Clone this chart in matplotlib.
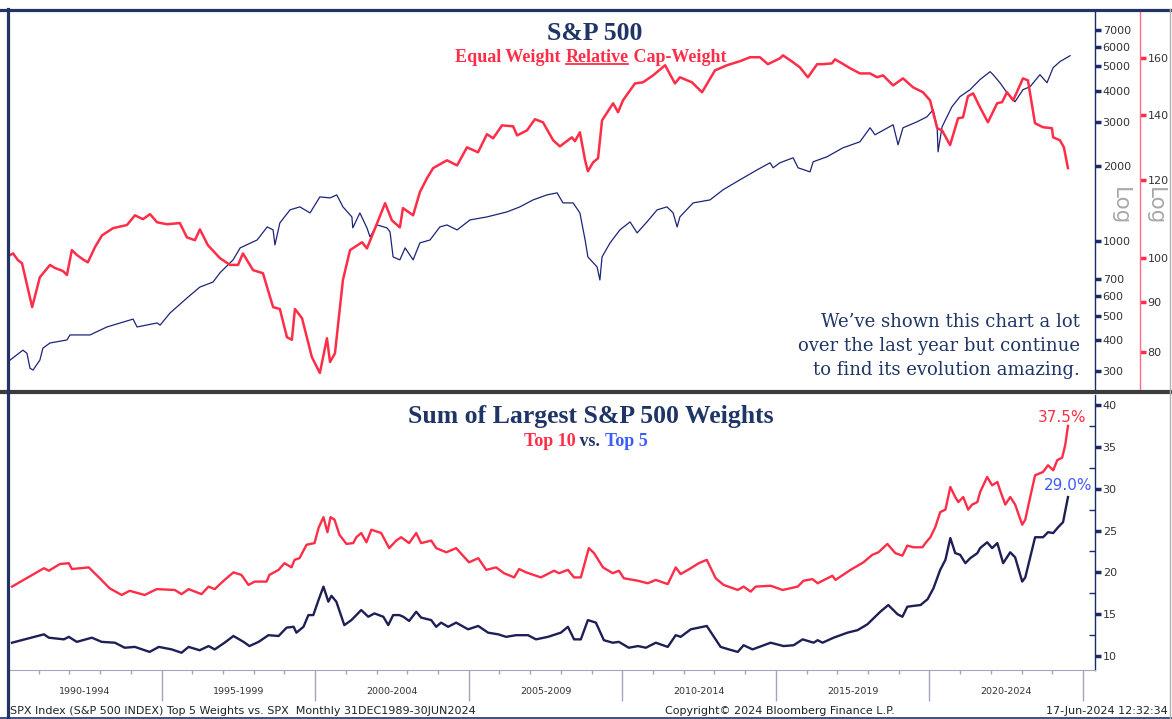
import matplotlib
matplotlib.use("Agg")
import matplotlib.pyplot as plt
from matplotlib.lines import Line2D
from matplotlib.ticker import FixedLocator, NullLocator, StrMethodFormatter, NullFormatter
import matplotlib.transforms as mtransforms

# ── S&P 500 index (monthly) ──
spx_dates = [1990.13, 1990.55, 1990.68, 1990.78, 1990.88, 1991.10, 1991.20, 1991.43, 1991.98, 1992.08,
             1992.73, 1993.28, 1994.13, 1994.26, 1994.91, 1995.01, 1995.33, 1995.88, 1996.30, 1996.73,
             1996.95, 1997.38, 1997.61, 1998.16, 1998.49, 1998.68, 1998.74, 1998.90, 1999.23, 1999.55,
             1999.88, 2000.20, 2000.53, 2000.75, 2000.95, 2001.24, 2001.27, 2001.50, 2001.73, 2001.83,
             2002.06, 2002.38, 2002.48, 2002.58, 2002.80, 2002.97, 2003.23, 2003.45, 2003.78, 2004.10,
             2004.33, 2004.66, 2005.08, 2005.63, 2006.28, 2006.70, 2007.13, 2007.58, 2007.91, 2008.10,
             2008.43, 2008.65, 2008.82, 2008.91, 2009.21, 2009.30, 2009.37, 2009.63, 2009.95, 2010.28,
             2010.51, 2010.83, 2011.16, 2011.48, 2011.68, 2011.81, 2011.90, 2012.33, 2012.88, 2013.30,
             2013.85, 2014.41, 2014.83, 2014.93, 2015.15, 2015.58, 2015.74, 2016.13, 2016.23, 2016.68,
             2017.20, 2017.75, 2018.08, 2018.24, 2018.83, 2018.99, 2019.15, 2019.61, 2019.93, 2020.13,
             2020.26, 2020.29, 2020.42, 2020.74, 2021.00, 2021.33, 2021.65, 2021.98, 2022.08, 2022.30,
             2022.53, 2022.79, 2023.05, 2023.28, 2023.60, 2023.83, 2024.03, 2024.25, 2024.58]
spx_values = [332, 364, 354, 308, 303, 332, 371, 389, 400, 419,
              419, 451, 485, 451, 468, 459, 513, 589, 652, 683,
              743, 838, 936, 1007, 1136, 1105, 962, 1179, 1330, 1367,
              1293, 1499, 1485, 1527, 1367, 1246, 1126, 1293, 1126, 1036,
              1157, 1126, 1085, 861, 838, 936, 838, 980, 1007, 1136,
              1157, 1105, 1212, 1246, 1305, 1367, 1458, 1527, 1556, 1418,
              1418, 1293, 1007, 861, 785, 696, 861, 980, 1105, 1190,
              1075, 1190, 1330, 1367, 1293, 1136, 1246, 1418, 1458, 1600,
              1755, 1924, 2054, 1961, 2054, 2151, 1961, 1889, 2073, 2171,
              2359, 2493, 2838, 2660, 2918, 2425, 2838, 3000, 3142, 3352,
              2864, 2273, 2864, 3446, 3780, 4035, 4426, 4764, 4633, 4302,
              3924, 3609, 4035, 4146, 4633, 4302, 4945, 5227, 5522]

# ── Equal weight relative to cap weight ──
ew_dates = [1990.13, 1990.23, 1990.39, 1990.52, 1990.85, 1991.10, 1991.43, 1991.59, 1991.85, 1991.98,
            1992.14, 1992.31, 1992.50, 1992.66, 1992.89, 1993.12, 1993.48, 1993.93, 1994.19, 1994.45,
            1994.68, 1994.91, 1995.23, 1995.65, 1995.88, 1996.14, 1996.30, 1996.56, 1996.95, 1997.28,
            1997.54, 1997.70, 1998.03, 1998.35, 1998.68, 1998.90, 1999.13, 1999.29, 1999.39, 1999.62,
            1999.94, 2000.20, 2000.43, 2000.53, 2000.69, 2000.95, 2001.18, 2001.57, 2001.73, 2002.06,
            2002.32, 2002.54, 2002.80, 2002.90, 2003.23, 2003.45, 2003.68, 2003.88, 2004.33, 2004.66,
            2004.98, 2005.34, 2005.63, 2005.83, 2006.12, 2006.48, 2006.61, 2006.93, 2007.19, 2007.45,
            2007.78, 2008.00, 2008.39, 2008.49, 2008.65, 2008.82, 2008.91, 2009.08, 2009.24, 2009.37,
            2009.73, 2009.89, 2010.05, 2010.44, 2010.70, 2011.03, 2011.42, 2011.74, 2011.90, 2012.29,
            2012.62, 2013.04, 2013.43, 2013.85, 2014.18, 2014.50, 2014.76, 2015.15, 2015.25, 2015.58,
            2015.80, 2016.06, 2016.36, 2016.55, 2016.84, 2016.94, 2017.17, 2017.43, 2017.75, 2018.08,
            2018.31, 2018.50, 2018.83, 2019.15, 2019.48, 2019.80, 2020.03, 2020.26, 2020.42, 2020.68,
            2020.94, 2021.10, 2021.26, 2021.43, 2021.65, 2021.91, 2022.21, 2022.37, 2022.53, 2022.73,
            2023.05, 2023.21, 2023.44, 2023.70, 2023.99, 2024.03, 2024.25, 2024.38, 2024.51]
ew_values = [100.6, 101.0, 99.4, 98.7, 89.0, 95.5, 98.3, 97.6, 96.9, 96.0,
             101.8, 100.6, 99.6, 98.9, 102.5, 105.4, 107.2, 108.0, 110.5, 109.5,
             110.8, 108.7, 108.2, 108.5, 104.9, 104.2, 106.9, 103.0, 99.9, 98.3,
             98.3, 101.0, 97.1, 96.4, 89.0, 88.6, 82.9, 82.4, 88.6, 86.7,
             79.1, 76.2, 82.7, 78.2, 79.8, 94.9, 101.8, 103.7, 102.2, 108.5,
             113.7, 109.2, 107.4, 112.4, 110.5, 116.7, 120.6, 123.5, 125.8, 124.3,
             129.7, 128.2, 133.8, 132.5, 136.6, 136.3, 133.4, 135.0, 138.6, 137.6,
             131.9, 130.0, 132.8, 131.6, 134.4, 125.8, 122.6, 125.2, 126.4, 138.2,
             143.9, 140.9, 144.9, 150.8, 151.2, 153.7, 157.4, 150.8, 153.0, 151.2,
             147.7, 155.5, 157.4, 158.9, 160.4, 160.4, 157.8, 160.0, 161.1, 158.5,
             156.6, 153.0, 157.8, 157.8, 158.1, 159.6, 158.1, 156.3, 154.4, 154.4,
             153.0, 153.7, 150.1, 152.6, 149.4, 147.7, 144.9, 135.7, 135.0, 130.4,
             138.9, 139.2, 146.3, 147.3, 142.6, 137.6, 143.9, 144.3, 147.7, 144.9,
             152.6, 151.9, 137.3, 136.0, 135.7, 132.8, 131.9, 129.7, 123.5]

# ── Sum of largest weights (%) ──
top10_dates = [1990.13, 1991.17, 1991.33, 1991.69, 1991.98, 1992.08, 1992.63, 1992.96, 1993.31, 1993.70,
               1993.96, 1994.45, 1994.84, 1995.43, 1995.65, 1995.88, 1996.30, 1996.53, 1996.73, 1997.05,
               1997.34, 1997.60, 1997.83, 1998.03, 1998.42, 1998.51, 1998.81, 1999.00, 1999.23, 1999.33,
               1999.49, 1999.72, 1999.98, 2000.11, 2000.27, 2000.40, 2000.50, 2000.63, 2000.79, 2001.02,
               2001.24, 2001.34, 2001.50, 2001.67, 2001.83, 2002.15, 2002.41, 2002.64, 2002.80, 2003.06,
               2003.29, 2003.45, 2003.78, 2003.94, 2004.27, 2004.59, 2005.01, 2005.31, 2005.57, 2005.89,
               2006.15, 2006.48, 2006.64, 2006.87, 2007.35, 2007.78, 2007.94, 2008.23, 2008.43, 2008.65,
               2008.91, 2009.08, 2009.37, 2009.69, 2009.89, 2010.05, 2010.51, 2010.83, 2011.09, 2011.48,
               2011.74, 2011.90, 2012.23, 2012.49, 2012.75, 2013.04, 2013.30, 2013.76, 2013.95, 2014.18,
               2014.34, 2014.83, 2015.22, 2015.71, 2015.90, 2016.19, 2016.36, 2016.84, 2016.94, 2017.43,
               2017.85, 2018.14, 2018.34, 2018.63, 2018.89, 2019.12, 2019.28, 2019.48, 2019.77, 2019.87,
               2020.03, 2020.19, 2020.35, 2020.52, 2020.68, 2020.84, 2020.94, 2021.10, 2021.26, 2021.39,
               2021.56, 2021.65, 2021.88, 2022.04, 2022.21, 2022.30, 2022.47, 2022.63, 2022.79, 2023.02,
               2023.12, 2023.28, 2023.44, 2023.70, 2023.86, 2024.03, 2024.16, 2024.32, 2024.42, 2024.51]
top10_values = [18.3, 20.5, 20.2, 21.0, 21.1, 20.4, 20.6, 19.4, 18.1, 17.3,
                17.8, 17.3, 18.0, 17.9, 17.4, 18.0, 17.4, 18.3, 18.0, 19.1,
                20.0, 19.7, 18.5, 18.9, 18.9, 19.7, 20.3, 21.1, 20.6, 21.5,
                21.7, 23.3, 23.5, 25.3, 26.6, 24.8, 26.6, 26.3, 24.5, 23.4,
                23.5, 24.2, 24.7, 23.6, 25.1, 24.7, 22.9, 23.8, 24.2, 23.5,
                24.7, 23.5, 23.8, 22.9, 22.4, 22.9, 21.2, 21.7, 20.3, 20.6,
                19.9, 19.4, 20.4, 20.0, 19.4, 20.2, 19.9, 20.3, 19.4, 19.4,
                22.9, 22.3, 20.6, 19.9, 20.2, 19.3, 19.0, 18.7, 19.1, 18.6,
                20.6, 19.8, 20.5, 21.1, 21.5, 19.3, 18.5, 17.9, 18.3, 17.7,
                18.3, 18.4, 17.9, 18.3, 19.0, 19.2, 18.7, 19.6, 19.1, 20.3,
                21.2, 22.1, 22.4, 23.4, 22.3, 22.0, 23.2, 23.0, 23.0, 23.5,
                24.2, 25.4, 27.2, 27.5, 30.2, 29.0, 28.4, 29.0, 27.5, 28.1,
                28.4, 29.6, 31.4, 30.4, 30.8, 29.8, 28.1, 29.0, 28.1, 25.7,
                26.3, 29.0, 31.6, 32.0, 32.8, 32.2, 33.4, 33.7, 35.2, 37.5]

top5_dates = [1990.13, 1991.17, 1991.33, 1991.82, 1991.98, 1992.24, 1992.73, 1993.05, 1993.48, 1993.80,
              1994.13, 1994.61, 1994.91, 1995.33, 1995.65, 1995.88, 1996.24, 1996.53, 1996.73, 1997.05,
              1997.34, 1997.67, 1997.86, 1998.16, 1998.48, 1998.81, 1999.07, 1999.30, 1999.39, 1999.62,
              1999.78, 1999.94, 2000.11, 2000.27, 2000.43, 2000.53, 2000.69, 2000.95, 2001.18, 2001.50,
              2001.73, 2001.93, 2002.22, 2002.38, 2002.54, 2002.74, 2002.87, 2003.06, 2003.29, 2003.45,
              2003.78, 2003.94, 2004.10, 2004.33, 2004.59, 2004.98, 2005.31, 2005.63, 2005.96, 2006.22,
              2006.54, 2006.93, 2007.19, 2007.58, 2008.00, 2008.23, 2008.43, 2008.65, 2008.88, 2009.14,
              2009.40, 2009.69, 2009.89, 2010.21, 2010.51, 2010.77, 2011.09, 2011.48, 2011.74, 2011.90,
              2012.23, 2012.75, 2013.20, 2013.47, 2013.76, 2013.95, 2014.24, 2014.83, 2015.25, 2015.58,
              2015.87, 2016.23, 2016.36, 2016.52, 2016.88, 2017.33, 2017.66, 2017.98, 2018.40, 2018.66,
              2018.96, 2019.12, 2019.28, 2019.48, 2019.71, 2019.94, 2020.13, 2020.35, 2020.52, 2020.68,
              2020.84, 2021.00, 2021.17, 2021.33, 2021.56, 2021.65, 2021.88, 2022.04, 2022.21, 2022.40,
              2022.63, 2022.79, 2023.02, 2023.12, 2023.28, 2023.44, 2023.70, 2023.86, 2024.03, 2024.19,
              2024.35, 2024.51]
top5_values = [11.6, 12.6, 12.2, 12.0, 12.3, 11.7, 12.2, 11.7, 11.6, 11.0,
               11.1, 10.5, 11.1, 10.8, 10.4, 11.1, 10.7, 11.2, 10.8, 11.6,
               12.4, 11.7, 11.2, 11.7, 12.5, 12.4, 13.4, 13.5, 12.8, 13.5,
               14.9, 14.9, 16.7, 18.3, 16.5, 17.2, 16.5, 13.7, 14.3, 15.5,
               14.7, 15.1, 14.7, 13.7, 14.9, 14.9, 14.7, 14.2, 15.3, 14.6,
               14.3, 13.5, 14.0, 13.5, 14.0, 13.2, 13.6, 12.8, 12.6, 12.3,
               12.5, 12.5, 12.0, 12.3, 12.8, 13.5, 12.0, 12.0, 14.3, 14.0,
               11.9, 11.6, 11.7, 11.0, 11.2, 11.0, 11.6, 11.1, 12.5, 12.3,
               13.2, 13.6, 11.1, 10.8, 10.5, 11.3, 10.8, 11.6, 11.2, 11.3,
               12.0, 11.6, 11.9, 11.6, 12.2, 12.8, 13.1, 13.8, 15.3, 16.1,
               15.0, 14.7, 15.9, 16.0, 16.1, 16.8, 18.1, 20.3, 21.5, 24.1,
               22.3, 22.1, 21.1, 21.7, 22.3, 22.9, 23.6, 22.9, 23.5, 21.1,
               22.4, 21.8, 18.9, 19.4, 21.8, 24.2, 24.2, 24.8, 24.7, 25.4,
               26.0, 29.0]

spx_ticks = [300, 400, 500, 600, 700, 1000, 2000, 3000, 4000, 5000, 6000, 7000]
ew_ticks = [80, 90, 100, 120, 140, 160]
weight_ticks = [10, 15, 20, 25, 30, 35, 40]
period_starts = [1990, 1995, 2000, 2005, 2010, 2015, 2020]
period_labels = ["1990-1994", "1995-1999", "2000-2004", "2005-2009",
                 "2010-2014", "2015-2019", "2020-2024"]

W, H = 1172, 719
NAVY = "#1b2a6b"
TITLE = "#1f3566"
LINE_NAVY = "#1d1f55"
SPX_NAVY = "#1c2478"
RED = "#ff2d48"
BLUE = "#3d5cff"
GRAY_AX = "#a4a4bc"
SERIF = "Liberation Serif"

fig = plt.figure(figsize=(W / 100, H / 100), dpi=100)
fig.patch.set_facecolor("white")

# ── Top panel: SPX (log) and EW/CW ratio (log) ──
ax1 = fig.add_axes([8 / W, 1 - 390 / H, 1087 / W, 380 / H])
ax1r = ax1.twinx()

ax1.plot(spx_dates, spx_values, color=SPX_NAVY, lw=0.9)
ax1.set_yscale("log")
ax1.set_ylim(252, 8420)
ax1.set_xlim(1990.065, 2025.39)
ax1.yaxis.tick_right()
ax1.yaxis.set_major_locator(FixedLocator(spx_ticks))
ax1.yaxis.set_minor_locator(NullLocator())
ax1.yaxis.set_major_formatter(StrMethodFormatter("{x:.0f}"))
ax1.yaxis.set_minor_formatter(NullFormatter())
ax1.tick_params(axis="y", which="major", direction="out", length=4, width=2.5,
                colors=NAVY, labelcolor="#333333", labelsize=8, pad=1.5,
                left=False, labelleft=False, right=True, labelright=True)
ax1.tick_params(axis="x", which="both", bottom=False, labelbottom=False)
for side in ["top", "bottom", "left"]:
    ax1.spines[side].set_visible(False)
ax1.spines["right"].set_color(NAVY)
ax1.spines["right"].set_linewidth(1.0)

ax1r.plot(ew_dates, ew_values, color=RED, lw=1.8)
ax1r.set_yscale("log")
ax1r.set_ylim(73.2, 179.3)
ax1r.yaxis.set_major_locator(FixedLocator(ew_ticks))
ax1r.yaxis.set_minor_locator(NullLocator())
ax1r.yaxis.set_major_formatter(StrMethodFormatter("{x:.0f}"))
ax1r.yaxis.set_minor_formatter(NullFormatter())
ax1r.tick_params(axis="y", which="major", direction="out", length=4, width=2.5,
                 colors=RED, labelcolor="#333333", labelsize=8, pad=1.5)
for side in ["top", "bottom", "left"]:
    ax1r.spines[side].set_visible(False)
ax1r.spines["right"].set_position(("outward", 45 * 0.72))
ax1r.spines["right"].set_color("#ff6f86")
ax1r.spines["right"].set_linewidth(1.0)

fig.text(1120 / W, 1 - 206 / H, "Log", rotation=270, ha="center", va="center",
         color="#a8a8a8", fontsize=15.5)
fig.text(1155 / W, 1 - 206 / H, "Log", rotation=270, ha="center", va="center",
         color="#a8a8a8", fontsize=15.5)

fig.text(595 / W, 1 - 33 / H, "S&P 500", ha="center", va="center",
         family=SERIF, weight="bold", fontsize=18.5, color=TITLE)

# subtitle with the middle word underlined
sub_mid = fig.text(597 / W, 1 - 57 / H, "Relative", ha="center", va="center",
                   family=SERIF, weight="bold", fontsize=13, color=RED)
ax1.annotate("Equal Weight ", xy=(0, 0), xycoords=sub_mid, ha="right", va="bottom",
             family=SERIF, weight="bold", fontsize=13, color=RED, annotation_clip=False)
ax1.annotate(" Cap-Weight", xy=(1, 0), xycoords=sub_mid, ha="left", va="bottom",
             family=SERIF, weight="bold", fontsize=13, color=RED, annotation_clip=False)

fig.text(1080 / W, 1 - 346 / H,
         "We\u2019ve shown this chart a lot\nover the last year but continue\nto find its evolution amazing.",
         ha="right", va="center", multialignment="right", linespacing=1.4,
         family="DejaVu Serif", fontsize=13, color=TITLE)

# ── Bottom panel: sum of largest weights ──
ax2 = fig.add_axes([8 / W, 1 - 670 / H, 1087 / W, 275 / H])
ax2.plot(top10_dates, top10_values, color=RED, lw=1.7)
ax2.plot(top5_dates, top5_values, color=LINE_NAVY, lw=1.7)
ax2.set_xlim(1990.065, 2025.39)
ax2.set_ylim(8.34, 41.19)
ax2.yaxis.tick_right()
ax2.set_yticks(weight_ticks)
ax2.set_yticks([v + 2.5 for v in weight_ticks[:-1]], minor=True)
ax2.tick_params(axis="y", which="major", direction="out", length=4, width=2.5,
                colors=NAVY, labelcolor="#333333", labelsize=8, pad=1.5)
ax2.tick_params(axis="y", which="minor", direction="in", length=4, width=1, colors=NAVY)
ax2.set_xticks(period_starts + [2025])
ax2.set_xticks(range(1991, 2025), minor=True)
ax2.tick_params(axis="x", which="major", direction="out", length=22, width=1,
                colors=GRAY_AX, labelbottom=False)
ax2.tick_params(axis="x", which="minor", direction="out", length=3, width=1, colors=GRAY_AX)
for side in ["top", "left"]:
    ax2.spines[side].set_visible(False)
ax2.spines["right"].set_color(NAVY)
ax2.spines["right"].set_linewidth(1.0)
ax2.spines["bottom"].set_color(GRAY_AX)

band = mtransforms.blended_transform_factory(ax2.transData, ax2.transAxes)
for start, label in zip(period_starts, period_labels):
    ax2.text(start + 2.5, -0.08, label, transform=band, ha="center", va="center",
             fontsize=6.8, color="#333333")

ax2.annotate(f"{top10_values[-1]:.1f}%", xy=(top10_dates[-1], top10_values[-1]),
             xytext=(-4, 6), textcoords="offset points", ha="center", va="center",
             fontsize=11, color=RED, annotation_clip=False)
ax2.annotate(f"{top5_values[-1]:.1f}%", xy=(top5_dates[-1], top5_values[-1]),
             xytext=(0, 8), textcoords="offset points", ha="center", va="center",
             fontsize=11, color=BLUE, annotation_clip=False)

fig.text(591 / W, 1 - 416 / H, "Sum of Largest S&P 500 Weights", ha="center", va="center",
         family=SERIF, weight="bold", fontsize=18.5, color=TITLE)
vs_mid = fig.text(590 / W, 1 - 441 / H, " vs. ", ha="center", va="center",
                  family=SERIF, weight="bold", fontsize=13, color=TITLE)
ax2.annotate("Top 10", xy=(0, 0), xycoords=vs_mid, ha="right", va="bottom",
             family=SERIF, weight="bold", fontsize=13, color=RED, annotation_clip=False)
ax2.annotate("Top 5", xy=(1, 0), xycoords=vs_mid, ha="left", va="bottom",
             family=SERIF, weight="bold", fontsize=13, color=BLUE, annotation_clip=False)

# ── footer ──
fig.text(10 / W, 1 - 711 / H, "SPX Index (S&P 500 INDEX) Top 5 Weights vs. SPX  Monthly 31DEC1989-30JUN2024",
         ha="left", va="center", fontsize=8, color="#222222")
fig.text(780 / W, 1 - 711 / H, "Copyright\u00a9 2024 Bloomberg Finance L.P.",
         ha="center", va="center", fontsize=8, color="#222222")
fig.text(1168 / W, 1 - 711 / H, "17-Jun-2024 12:32:34",
         ha="right", va="center", fontsize=8, color="#222222")

# ── frame lines ──
fig.add_artist(Line2D([0, 1], [1 - 9.5 / H, 1 - 9.5 / H], transform=fig.transFigure,
                      color=TITLE, lw=2.3))
fig.add_artist(Line2D([0, 1], [1 - 392 / H, 1 - 392 / H], transform=fig.transFigure,
                      color="#3c3c3c", lw=3.0))
fig.add_artist(Line2D([7.5 / W, 7.5 / W], [0, 1 - 9 / H], transform=fig.transFigure,
                      color=TITLE, lw=2.3))
fig.add_artist(Line2D([0, 1], [1 - 718 / H, 1 - 718 / H], transform=fig.transFigure,
                      color=TITLE, lw=1.2))
fig.add_artist(Line2D([1 - 2 / W, 1 - 2 / W], [0, 1 - 9 / H], transform=fig.transFigure,
                      color="#b0b0b0", lw=1.0))

# underline under "Relative"
fig.canvas.draw()
bb = sub_mid.get_window_extent()
fig.add_artist(Line2D([bb.x0 + 1, bb.x1 - 1], [bb.y0 + 1.5, bb.y0 + 1.5], transform=None,
                      color=RED, lw=1.3))

fig.savefig("out.png", dpi=100)
